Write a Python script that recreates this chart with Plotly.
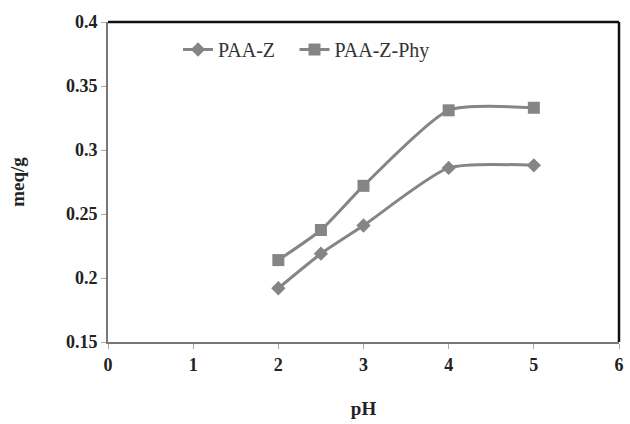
import plotly.graph_objects as go

ph = [2, 2.5, 3, 4, 5]
paa_z = [0.192, 0.219, 0.241, 0.286, 0.288]
paa_z_phy = [0.214, 0.2375, 0.272, 0.331, 0.333]
x_ticks = [0, 1, 2, 3, 4, 5, 6]
y_ticks = [0.15, 0.2, 0.25, 0.3, 0.35, 0.4]
y_tick_labels = ["0.15", "0.2", "0.25", "0.3", "0.35", "0.4"]

GRAY = "#858585"
fig = go.Figure()
fig.add_trace(go.Scatter(x=ph, y=paa_z, name="PAA-Z", mode="lines+markers", legend="legend",
                         line=dict(color=GRAY, width=3, shape="spline", smoothing=0.6),
                         marker=dict(symbol="diamond", size=11, color=GRAY)))
fig.add_trace(go.Scatter(x=ph, y=paa_z_phy, name="PAA-Z-Phy", mode="lines+markers", legend="legend2",
                         line=dict(color=GRAY, width=3, shape="spline", smoothing=0.6),
                         marker=dict(symbol="square", size=12, color=GRAY)))

leg_common = dict(orientation="h", y=0.975, xanchor="left", yanchor="top",
                  font=dict(size=20, family="Liberation Serif", color="#333333"),
                  bgcolor="rgba(0,0,0,0)")
fig.update_layout(
    width=630, height=424,
    margin=dict(l=108, r=6, t=22, b=82),
    paper_bgcolor="white", plot_bgcolor="white",
    font=dict(family="Liberation Serif", color="#222222"),
    showlegend=True,
    legend=dict(x=0.137, **leg_common),
    legend2=dict(x=0.365, **leg_common),
    xaxis=dict(range=[0, 6], tickvals=x_ticks, showgrid=False, zeroline=False,
               showline=True, linecolor="#777777", linewidth=2,
               ticks="outside", ticklen=5, tickcolor="#aaaaaa",
               tickfont=dict(size=18, family="Liberation Serif", weight="bold"),
               title=dict(text="<b>pH</b>", font=dict(size=19, family="Liberation Serif"), standoff=28)),
    yaxis=dict(range=[0.15, 0.4], tickvals=y_ticks, ticktext=y_tick_labels,
               showgrid=False, zeroline=False,
               showline=True, linecolor="#777777", linewidth=2,
               ticks="outside", ticklen=5, tickcolor="#aaaaaa",
               tickfont=dict(size=18, family="Liberation Serif", weight="bold"),
               title=dict(text="<b>meq/g</b>", font=dict(size=19, family="Liberation Serif"), standoff=36)),
)
# top and right border of plot area (black)
fig.add_shape(type="line", xref="paper", yref="paper", x0=0, x1=1, y0=1, y1=1,
              line=dict(color="#111111", width=2.5))
fig.add_shape(type="line", xref="paper", yref="paper", x0=1, x1=1, y0=0, y1=1,
              line=dict(color="#111111", width=2.5))
fig.write_html("out.html")
